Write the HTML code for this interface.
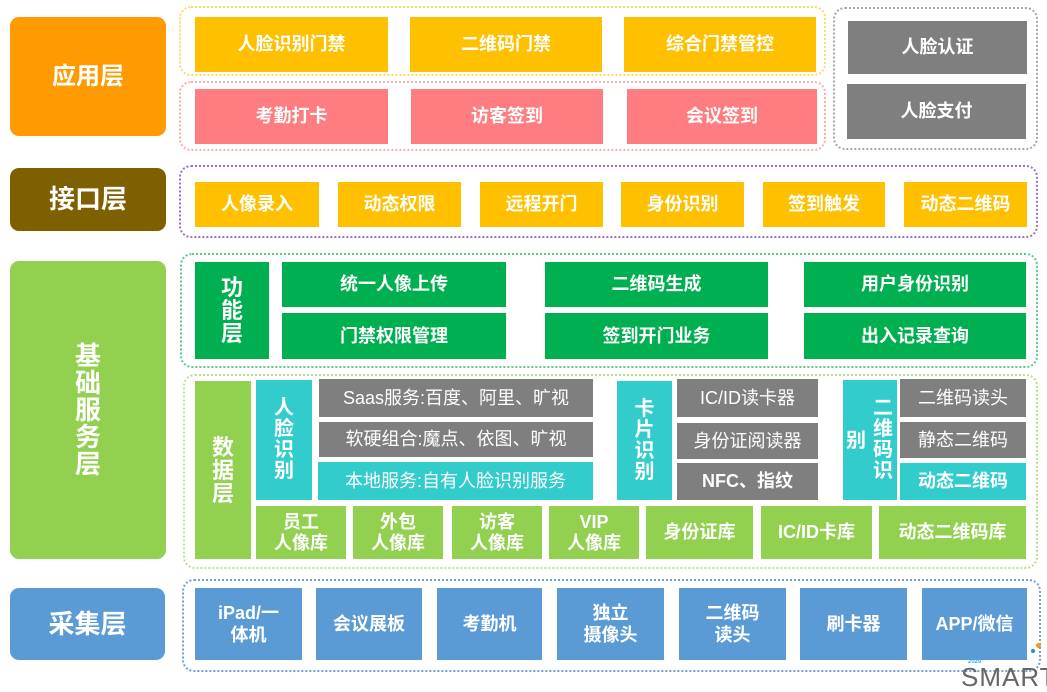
<!DOCTYPE html>
<html>
<head>
<meta charset="utf-8">
<style>
html,body{margin:0;padding:0;background:#fff;}
body{width:1047px;height:677px;position:relative;overflow:hidden;font-family:"Liberation Sans","Noto Sans CJK SC",sans-serif;}
.b{position:absolute;display:flex;align-items:center;justify-content:center;color:#fff;font-weight:bold;text-align:center;font-size:18px;line-height:21px;box-sizing:border-box;}
.c{position:absolute;box-sizing:border-box;border-radius:12px;}
.L{border-radius:9px;}
.y{background:#FFC000;}
.p{background:#FF7C80;}
.g{background:#7F7F7F;}
.dg{background:#00B050;}
.lg{background:#92D050;}
.t{background:#33CCCC;}
.bl{background:#5B9BD5;}
.n{font-weight:normal;}
.v{position:absolute;color:#fff;font-weight:bold;text-align:center;}
</style>
</head>
<body>

<!-- Layer labels -->
<div class="b L" style="left:10px;top:17px;width:156px;height:119px;background:#FF9A00;font-size:24px;">应用层</div>
<div class="b L" style="left:10px;top:168px;width:156px;height:63px;background:#7F6000;font-size:26px;">接口层</div>
<div class="b L" style="left:10px;top:261px;width:156px;height:298px;background:#92D050;font-size:26px;line-height:27px;">基<br>础<br>服<br>务<br>层</div>
<div class="b L" style="left:10px;top:588px;width:155px;height:72px;background:#5B9BD5;font-size:26px;">采集层</div>

<!-- Application layer containers -->
<div class="c" style="left:179px;top:6px;width:647px;height:70px;border:2px dotted #FFD966;"></div>
<div class="c" style="left:179px;top:81px;width:647px;height:70px;border:2px dotted #FFABAE;"></div>
<div class="c" style="left:833px;top:7px;width:205px;height:143px;border:2px dotted #A6A6A6;"></div>

<div class="b y" style="left:195px;top:17px;width:193px;height:55px;">人脸识别门禁</div>
<div class="b y" style="left:410px;top:17px;width:192px;height:55px;">二维码门禁</div>
<div class="b y" style="left:624px;top:17px;width:192px;height:55px;">综合门禁管控</div>

<div class="b p" style="left:195px;top:89px;width:193px;height:55px;">考勤打卡</div>
<div class="b p" style="left:411px;top:89px;width:192px;height:55px;">访客签到</div>
<div class="b p" style="left:627px;top:89px;width:190px;height:55px;">会议签到</div>

<div class="b g" style="left:848px;top:21px;width:179px;height:53px;">人脸认证</div>
<div class="b g" style="left:847px;top:84px;width:179px;height:55px;">人脸支付</div>

<!-- Interface layer -->
<div class="c" style="left:179px;top:165px;width:859px;height:73px;border:2px dotted #9B6FC8;"></div>
<div class="b y" style="left:195px;top:182px;width:124px;height:45px;">人像录入</div>
<div class="b y" style="left:338px;top:182px;width:123px;height:45px;">动态权限</div>
<div class="b y" style="left:480px;top:182px;width:123px;height:45px;">远程开门</div>
<div class="b y" style="left:621px;top:182px;width:123px;height:45px;">身份识别</div>
<div class="b y" style="left:763px;top:182px;width:122px;height:45px;">签到触发</div>
<div class="b y" style="left:904px;top:182px;width:123px;height:45px;">动态二维码</div>

<!-- Function layer -->
<div class="c" style="left:180px;top:253px;width:858px;height:115px;border:2px dotted #5CC98A;"></div>
<div class="b dg" style="left:195px;top:262px;width:74px;height:97px;font-size:22px;line-height:23px;">功<br>能<br>层</div>
<div class="b dg" style="left:282px;top:262px;width:224px;height:45px;">统一人像上传</div>
<div class="b dg" style="left:282px;top:313px;width:224px;height:46px;">门禁权限管理</div>
<div class="b dg" style="left:545px;top:262px;width:223px;height:45px;">二维码生成</div>
<div class="b dg" style="left:545px;top:313px;width:223px;height:46px;">签到开门业务</div>
<div class="b dg" style="left:804px;top:262px;width:222px;height:45px;">用户身份识别</div>
<div class="b dg" style="left:804px;top:313px;width:222px;height:46px;">出入记录查询</div>

<!-- Data layer -->
<div class="c" style="left:183px;top:374px;width:855px;height:195px;border:2px dotted #B8E08F;"></div>
<div class="b lg" style="left:195px;top:381px;width:56px;height:178px;font-size:22px;line-height:23px;">数<br>据<br>层</div>

<div class="b t" style="left:256px;top:380px;width:56px;height:120px;font-size:20px;line-height:21px;">人<br>脸<br>识<br>别</div>
<div class="b g n" style="left:319px;top:379px;width:274px;height:38px;">Saas服务:百度、阿里、旷视</div>
<div class="b g n" style="left:319px;top:422px;width:274px;height:35px;">软硬组合:魔点、依图、旷视</div>
<div class="b t n" style="left:318px;top:462px;width:275px;height:38px;">本地服务:自有人脸识别服务</div>

<div class="b t" style="left:617px;top:381px;width:55px;height:119px;font-size:20px;line-height:21px;">卡<br>片<br>识<br>别</div>
<div class="b g n" style="left:677px;top:379px;width:141px;height:38px;">IC/ID读卡器</div>
<div class="b g n" style="left:677px;top:423px;width:141px;height:36px;">身份证阅读器</div>
<div class="b g" style="left:677px;top:463px;width:141px;height:37px;">NFC、指纹</div>

<div class="b t" style="left:843px;top:380px;width:54px;height:120px;"></div>
<div class="v" style="left:845px;top:431px;width:22px;font-size:20px;line-height:21px;">别</div>
<div class="v" style="left:872px;top:398px;width:22px;font-size:20px;line-height:21px;">二<br>维<br>码<br>识</div>
<div class="b g n" style="left:900px;top:379px;width:126px;height:38px;">二维码读头</div>
<div class="b g n" style="left:900px;top:422px;width:126px;height:36px;">静态二维码</div>
<div class="b t" style="left:900px;top:463px;width:126px;height:37px;">动态二维码</div>

<div class="b lg" style="left:256px;top:506px;width:90px;height:53px;">员工<br>人像库</div>
<div class="b lg" style="left:353px;top:506px;width:90px;height:53px;">外包<br>人像库</div>
<div class="b lg" style="left:452px;top:506px;width:90px;height:53px;">访客<br>人像库</div>
<div class="b lg" style="left:549px;top:506px;width:90px;height:53px;">VIP<br>人像库</div>
<div class="b lg" style="left:646px;top:506px;width:107px;height:53px;">身份证库</div>
<div class="b lg" style="left:761px;top:506px;width:111px;height:53px;">IC/ID卡库</div>
<div class="b lg" style="left:879px;top:506px;width:147px;height:53px;">动态二维码库</div>

<!-- Collection layer -->
<div class="c" style="left:182px;top:579px;width:859px;height:93px;border:2px dotted #6F9FCF;"></div>
<div class="b bl" style="left:195px;top:588px;width:107px;height:72px;line-height:22px;">iPad/一<br>体机</div>
<div class="b bl" style="left:316px;top:588px;width:106px;height:72px;">会议展板</div>
<div class="b bl" style="left:437px;top:588px;width:105px;height:72px;">考勤机</div>
<div class="b bl" style="left:557px;top:588px;width:107px;height:72px;line-height:22px;">独立<br>摄像头</div>
<div class="b bl" style="left:679px;top:588px;width:107px;height:72px;line-height:22px;">二维码<br>读头</div>
<div class="b bl" style="left:800px;top:588px;width:107px;height:72px;">刷卡器</div>
<div class="b bl" style="left:922px;top:588px;width:105px;height:72px;">APP/微信</div>

<!-- Logo fragment -->
<div style="position:absolute;left:1036px;top:643px;width:5px;height:5px;border-radius:50%;background:#F39C12;"></div>
<div style="position:absolute;left:1031px;top:649px;width:4px;height:4px;border-radius:50%;background:#1E90D0;"></div>
<div style="position:absolute;left:968px;top:659px;font-size:6px;color:#3FA9F5;font-weight:bold;">2020</div>
<div style="position:absolute;left:961px;top:664px;font-size:26px;line-height:26px;color:#666;letter-spacing:1px;">SMART</div>

</body>
</html>
